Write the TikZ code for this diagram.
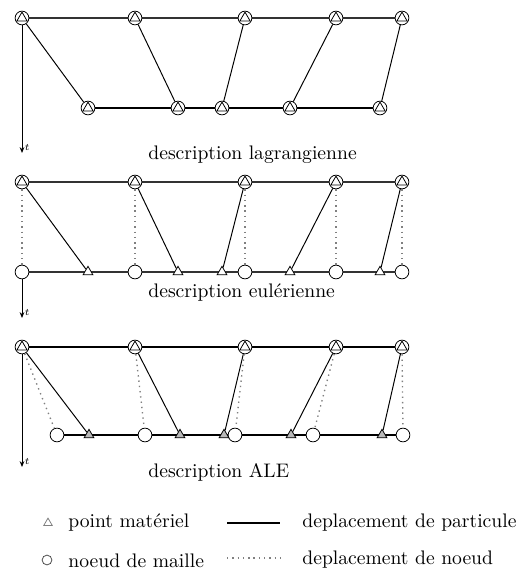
\documentclass[tikz,border=0pt]{standalone}
\usepackage{fontspec}
\usetikzlibrary{shapes.geometric,backgrounds,arrows.meta}
\begin{document}
\begin{tikzpicture}[
        x=0.51pt, y=-0.51pt,
        mesh/.style={circle, draw, fill=white, minimum size=7pt, inner sep=0pt},
        mat/.style={regular polygon, regular polygon sides=3, draw, fill=white, minimum size=5.8pt, inner sep=0pt},
        matgray/.style={mat, fill=gray!55},
        both/.style={mesh, path picture={\draw ([yshift=3pt]path picture bounding box.center) -- ++(240:5.2pt) -- ++(0:5.2pt) -- cycle;}},
        particle/.style={line width=1pt},
        track/.style={line width=0.5pt},
        nodemove/.style={dotted, gray, line width=0.7pt},
        axis/.style={line width=0.5pt, -{Stealth[length=3pt, width=2.4pt]}},
        caption/.style={anchor=west, inner sep=0pt},
    ]
        \useasboundingbox (0,0) rectangle (516,574);

        % description lagrangienne
        \foreach \x [count=\i] in {22,135,245,336,402}
            \node[both] (la\i) at (\x,18) {};
        \foreach \x [count=\i] in {88,178,222,290,380}
            \node[both] (lb\i) at (\x,108) {};
        \begin{pgfonlayer}{background}
            \draw[particle, black!80] (la1) -- (la5);
            \draw[particle] (lb1) -- (lb5);
        \end{pgfonlayer}
        \foreach \i in {1,...,5}
            \draw[track] (la\i) -- (lb\i);
        \coordinate (lt) at (22,153);
        \draw[axis] (la1) -- (lt) node[above right, inner sep=1pt, font=\tiny] {$t$};
        \node[caption] (capl) at (148,155) {description lagrangienne};

        % description eulerienne
        \foreach \x [count=\i] in {22,135,245,336,402} {
            \node[both] (ea\i) at (\x,182) {};
            \node[mesh] (ec\i) at (\x,272) {};
        }
        \foreach \x [count=\i] in {88,178,222,290,380}
            \node[mat] (em\i) at (\x,272) {};
        \begin{pgfonlayer}{background}
            \draw[particle, black!80] (ea1) -- (ea5);
            \draw[particle, black!80] (ec1) -- (ec5);
        \end{pgfonlayer}
        \foreach \i in {1,...,5} {
            \draw[track] (ea\i) -- (em\i);
            \draw[nodemove] (ea\i) -- (ec\i);
        }
        \coordinate (et) at (22,318);
        \draw[axis] (ec1) -- (et) node[above right, inner sep=1pt, font=\tiny] {$t$};
        \node[caption] (cape) at (148,293) {description eulérienne};

        % description ALE
        \foreach \x [count=\i] in {22,135,245,336,402}
            \node[both] (aa\i) at (\x,347) {};
        \foreach \x [count=\i] in {57,145,235,313,403}
            \node[mesh] (ac\i) at (\x,435) {};
        \foreach \x [count=\i] in {89,180,224,291,382}
            \node[matgray] (am\i) at (\x,435) {};
        \begin{pgfonlayer}{background}
            \draw[particle] (aa1) -- (aa5);
            \draw[particle] (ac1) -- (ac5);
        \end{pgfonlayer}
        \foreach \i in {1,...,5} {
            \draw[track] (aa\i) -- (am\i);
            \draw[nodemove] (aa\i) -- (ac\i);
        }
        \coordinate (at) at (22,467);
        \draw[axis] (aa1) -- (at) node[above right, inner sep=1pt, font=\tiny] {$t$};
        \node[caption] (capa) at (148,472) {description ALE};

        % Legend
        \node[mat, draw=gray, minimum size=5pt] (legmat) at (48,523) {};
        \node[caption] (legmattxt) at (68,523) {point matériel};
        \coordinate (lp1) at (227,523);
        \coordinate (lp2) at (280,523);
        \draw[particle] (lp1) -- (lp2);
        \node[caption] (legparttxt) at (302,523) {deplacement de particule};
        \node[mesh, draw=black!70, minimum size=5pt] (legmesh) at (47,560) {};
        \node[caption] (legmeshtxt) at (68,561) {noeud de maille};
        \coordinate (ln1) at (227,558);
        \coordinate (ln2) at (280,558);
        \draw[nodemove] (ln1) -- (ln2);
        \node[caption] (legnodetxt) at (302,560) {deplacement de noeud};

    \end{tikzpicture}
\end{document}
